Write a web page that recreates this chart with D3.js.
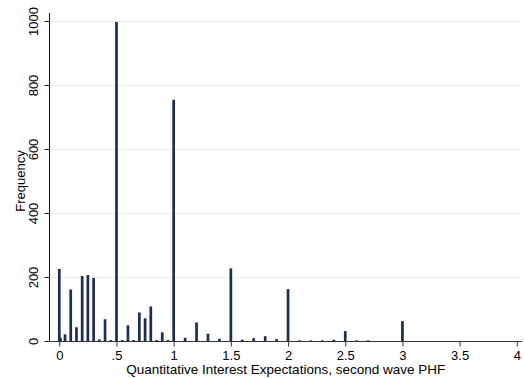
<!DOCTYPE html>
<html>
<head>
<meta charset="utf-8">
<script src="https://cdn.jsdelivr.net/npm/d3@7"></script>
<style>
  body { margin: 0; background: #fff; }
  svg { display: block; font-family: "Liberation Sans", Arial, sans-serif; }
</style>
</head>
<body>
<svg id="hist"></svg>
<script>
// expectation values (x) and their counts
const values = [0, 0.01, 0.05, 0.1, 0.15, 0.2, 0.25, 0.3, 0.35, 0.4, 0.45, 0.5, 0.55, 0.6, 0.65,
  0.7, 0.75, 0.8, 0.85, 0.9, 0.95, 1, 1.1, 1.2, 1.3, 1.4, 1.5, 1.6, 1.7, 1.8, 1.9, 2,
  2.1, 2.2, 2.3, 2.4, 2.5, 2.6, 2.7, 3];
const counts = [225, 10, 21, 161, 43, 203, 206, 197, 5, 68, 3, 997, 3, 49, 3,
  89, 71, 108, 3, 27, 3, 754, 10, 58, 23, 7, 227, 4, 9, 15, 6, 162,
  2, 2, 2, 4, 31, 2, 2, 62];
const xTicks = [0, 0.5, 1, 1.5, 2, 2.5, 3, 3.5, 4];
const yTicks = [0, 200, 400, 600, 800, 1000];

const width = 524;
const height = 378;

const svg = d3.select("#hist")
  .attr("width", width)
  .attr("height", height);

const data = values.map((v, i) => ({ value: v, count: counts[i] }));

const xScale = d3.scaleLinear()
  .domain([0, 4])
  .range([59.3, 516.8]);

const yScale = d3.scaleLinear()
  .domain([0, 1000])
  .range([341, 21]);

const axisLeftX = 49.5;
const plotRight = 522;

// light gridlines
svg.append("g")
  .selectAll("line")
  .data(yTicks.filter(t => t > 0))
  .join("line")
  .attr("x1", axisLeftX)
  .attr("x2", plotRight)
  .attr("y1", d => Math.round(yScale(d)) + 0.5)
  .attr("y2", d => Math.round(yScale(d)) + 0.5)
  .attr("stroke", "#eaf0f2")
  .attr("stroke-width", 1);

// spikes
const barW = 2.7;
svg.append("g")
  .attr("fill", "#1e2d55")
  .selectAll("rect")
  .data(data)
  .join("rect")
  .attr("x", d => xScale(d.value) - barW / 2)
  .attr("width", barW)
  .attr("y", d => yScale(d.count))
  .attr("height", d => yScale(0) - yScale(d.count));

// y axis
const yAxis = svg.append("g")
  .attr("transform", `translate(${axisLeftX},0)`)
  .call(d3.axisLeft(yScale).tickValues(yTicks).tickSize(5).tickFormat(d3.format("d")));
yAxis.select(".domain").attr("d", `M0,${yScale(0)}V13`).attr("stroke", "#111");
yAxis.selectAll(".tick line").attr("stroke", "#111");
yAxis.selectAll(".tick text")
  .attr("transform", "rotate(-90)")
  .attr("x", 0)
  .attr("y", -12)
  .attr("dy", 0)
  .attr("text-anchor", "middle")
  .attr("font-size", 13)
  .attr("font-family", "Liberation Sans, Arial, sans-serif")
  .attr("fill", "#000");

// x axis
const xAxis = svg.append("g")
  .attr("transform", `translate(0,${yScale(0) + 0.5})`)
  .call(d3.axisBottom(xScale).tickValues(xTicks).tickSize(5)
    .tickFormat(d => d === 0 ? "0" : d3.format("")(d).replace(/^0\./, ".")));
xAxis.select(".domain").attr("d", `M${axisLeftX - 0.5},0H${plotRight}`).attr("stroke", "#333");
xAxis.selectAll(".tick line").attr("stroke", "#333");
xAxis.selectAll(".tick text")
  .attr("y", 9)
  .attr("dy", "0.71em")
  .attr("font-size", 13)
  .attr("font-family", "Liberation Sans, Arial, sans-serif")
  .attr("fill", "#000");

// axis titles
svg.append("text")
  .attr("x", (axisLeftX + plotRight) / 2)
  .attr("y", 373.5)
  .attr("text-anchor", "middle")
  .attr("font-size", 13.5)
  .text("Quantitative Interest Expectations, second wave PHF");

svg.append("text")
  .attr("transform", "rotate(-90)")
  .attr("x", -181)
  .attr("y", 25)
  .attr("text-anchor", "middle")
  .attr("font-size", 13)
  .text("Frequency");
</script>
</body>
</html>
